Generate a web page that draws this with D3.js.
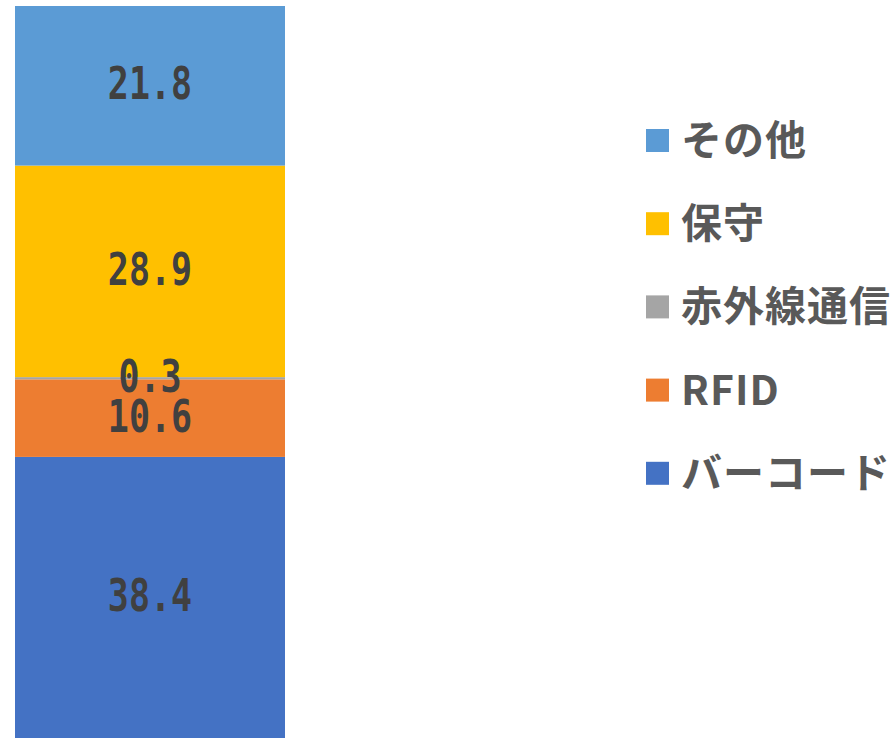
<!DOCTYPE html>
<html><head><meta charset="utf-8">
<script src="https://cdn.jsdelivr.net/npm/d3@7"></script>
<style>html,body{margin:0;padding:0;background:#fff;overflow:hidden}</style>
</head><body>
<script>
const categories = ["バーコード", "RFID", "赤外線通信", "保守", "その他"];
const values = [38.4, 10.6, 0.3, 28.9, 21.8];
const colors = ["#4472C4", "#ED7D31", "#A5A5A5", "#FFC000", "#5B9BD5"];
const legendOrder = ["その他", "保守", "赤外線通信", "RFID", "バーコード"];

const W = 893, H = 738;
const svg = d3.select("body").append("svg").attr("width", W).attr("height", H);

const x = d3.scaleBand().domain(["all"]).range([15, 285]).padding(0);
const y = d3.scaleLinear().domain([0, 100]).range([738, 6]);

let acc = 0;
const stacked = categories.map((c, i) => {
  const d = {cat: c, v: values[i], y0: acc, y1: acc + values[i], color: colors[i]};
  acc += values[i];
  return d;
});

svg.selectAll("rect.seg").data(stacked).enter().append("rect")
  .attr("class", "seg")
  .attr("x", x("all")).attr("width", x.bandwidth())
  .attr("y", d => y(d.y1)).attr("height", d => y(d.y0) - y(d.y1))
  .attr("fill", d => d.color);

svg.selectAll("text.lbl").data(stacked).enter().append("text")
  .attr("class", "lbl")
  .attr("transform", d => `translate(${x("all") + x.bandwidth() / 2},${(y(d.y0) + y(d.y1)) / 2 - 2}) scale(1,1.25)`)
  .attr("text-anchor", "middle")
  .attr("dominant-baseline", "central")
  .attr("font-family", "'DejaVu Sans Mono', monospace")
  .attr("font-weight", "bold")
  .attr("font-size", 35)
  .attr("fill", "#404040")
  .text(d => d.v.toFixed(1));

const colorOf = Object.fromEntries(categories.map((c, i) => [c, colors[i]]));
const lg = svg.selectAll("g.leg").data(legendOrder).enter().append("g")
  .attr("class", "leg")
  .attr("transform", (d, i) => `translate(646, ${129 + i * 83.2})`);
lg.append("rect").attr("width", 23).attr("height", 23).attr("fill", d => colorOf[d]);
lg.append("text")
  .attr("x", 35).attr("y", 8)
  .attr("dominant-baseline", "central")
  .attr("font-family", "'Noto Sans CJK JP', sans-serif")
  .attr("font-weight", "bold")
  .attr("font-size", 41)
  .attr("letter-spacing", 1)
  .attr("fill", "#595959")
  .text(d => d);
</script>
</body></html>
